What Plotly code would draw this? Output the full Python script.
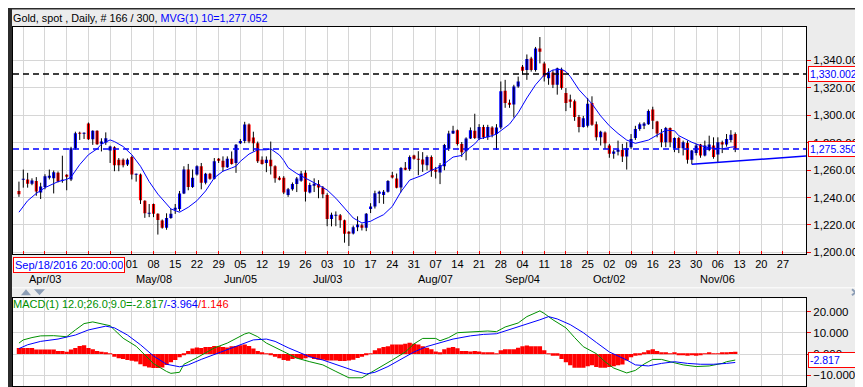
import plotly.graph_objects as go
import pandas as pd

# ---------------- data ----------------
dates = pd.bdate_range("2017-03-24", periods=182)   # trading-day slots (index = position)

open_ = [1244.8, 1253.0, 1253.2, 1250.1, 1252.0, 1243.7, 1247.7, 1254.8, 1254.0, 1258.0,
         1252.5, 1256.0, 1253.2, 1276.0, 1287.0, 1286.6, 1294.0, 1282.5, 1288.7, 1279.9,
         1280.1, 1274.3, 1276.7, 1267.6, 1267.6, 1264.0, 1269.5, 1256.8, 1256.8, 1237.7,
         1228.5, 1235.3, 1228.1, 1223.3, 1218.0, 1225.0, 1231.5, 1231.7, 1242.9, 1260.4,
         1247.7, 1256.8, 1262.8, 1250.8, 1257.3, 1253.7, 1268.1, 1266.9, 1262.1, 1268.3,
         1265.2, 1279.6, 1281.3, 1293.3, 1283.7, 1279.6, 1267.6, 1265.2, 1267.6, 1262.8,
         1254.4, 1254.4, 1241.9, 1246.0, 1249.8, 1252.2, 1258.0, 1243.6, 1249.1, 1249.8,
         1247.4, 1241.9, 1224.4, 1227.0, 1227.0, 1223.4, 1214.5, 1213.8, 1218.4, 1219.8,
         1217.9, 1231.6, 1233.5, 1243.1, 1241.9, 1244.3, 1256.3, 1253.9, 1247.4, 1261.6,
         1260.6, 1270.7, 1267.8, 1267.8, 1263.5, 1269.5, 1259.6, 1258.2, 1262.8, 1275.5,
         1286.7, 1289.1, 1279.1, 1273.8, 1283.1, 1288.7, 1283.1, 1291.5, 1283.9, 1291.1,
         1286.3, 1291.1, 1317.9, 1309.0, 1307.8, 1321.0, 1335.4, 1333.0, 1341.4, 1333.0,
         1348.6, 1337.8, 1327.0, 1331.1, 1322.2, 1333.0, 1316.2, 1311.4, 1310.2, 1298.7,
         1291.5, 1292.3, 1309.0, 1293.5, 1283.9, 1287.5, 1277.9, 1271.9, 1273.6, 1274.7,
         1270.0, 1276.7, 1283.4, 1289.9, 1293.0, 1293.5, 1304.2, 1295.4, 1286.7, 1280.3,
         1290.6, 1275.9, 1283.4, 1276.0, 1279.8, 1267.6, 1272.4, 1278.6, 1270.7, 1274.7,
         1277.9, 1271.4, 1280.3, 1278.6, 1282.0, 1286.3]
high = [1251.6, 1260.4, 1258.0, 1254.0, 1254.9, 1250.8, 1257.0, 1260.4, 1259.7, 1259.0,
        1270.5, 1257.0, 1277.0, 1288.0, 1288.0, 1287.5, 1294.7, 1289.0, 1289.0, 1283.2,
        1287.5, 1277.8, 1277.4, 1268.8, 1268.5, 1268.5, 1270.5, 1257.5, 1257.5, 1238.0,
        1235.3, 1235.6, 1228.5, 1224.0, 1228.5, 1231.7, 1235.3, 1244.8, 1262.8, 1264.5,
        1260.4, 1263.5, 1265.2, 1258.0, 1258.0, 1268.8, 1268.8, 1270.0, 1270.0, 1273.6,
        1279.0, 1282.7, 1295.2, 1294.0, 1288.0, 1280.8, 1270.0, 1270.0, 1280.8, 1263.5,
        1255.6, 1255.6, 1247.0, 1251.0, 1255.0, 1259.4, 1259.9, 1250.8, 1254.0, 1252.7,
        1248.4, 1243.1, 1229.0, 1229.9, 1228.0, 1223.9, 1215.5, 1219.6, 1226.3, 1221.0,
        1228.7, 1235.9, 1245.0, 1245.0, 1245.5, 1252.7, 1258.7, 1257.5, 1262.3, 1265.9,
        1270.7, 1271.2, 1273.8, 1273.1, 1270.7, 1270.7, 1262.3, 1265.2, 1279.1, 1288.7,
        1292.3, 1289.6, 1280.5, 1283.9, 1291.1, 1301.1, 1293.5, 1293.0, 1293.0, 1292.0,
        1293.5, 1324.6, 1325.8, 1311.4, 1322.2, 1328.2, 1336.6, 1344.3, 1342.6, 1349.8,
        1357.0, 1339.0, 1334.2, 1333.0, 1334.7, 1334.7, 1319.8, 1315.0, 1311.4, 1300.2,
        1299.5, 1312.6, 1313.8, 1295.4, 1288.7, 1288.2, 1279.1, 1274.7, 1281.5, 1279.1,
        1280.3, 1286.3, 1292.3, 1294.7, 1295.0, 1304.2, 1306.2, 1295.9, 1289.9, 1291.5,
        1291.1, 1283.9, 1284.3, 1281.5, 1281.5, 1274.7, 1279.1, 1279.1, 1281.5, 1285.1,
        1283.9, 1283.9, 1281.5, 1286.3, 1289.1, 1287.5]
low = [1240.5, 1247.2, 1247.2, 1249.0, 1241.3, 1238.9, 1246.0, 1253.2, 1243.0, 1251.0,
       1250.8, 1245.3, 1252.0, 1275.0, 1282.0, 1282.7, 1282.0, 1278.4, 1278.4, 1273.6,
       1278.4, 1265.2, 1259.2, 1259.2, 1262.0, 1263.0, 1253.2, 1251.6, 1235.3, 1225.2,
       1225.7, 1225.7, 1213.0, 1217.3, 1216.5, 1224.5, 1228.1, 1230.0, 1242.5, 1245.3,
       1247.0, 1256.0, 1246.0, 1249.6, 1253.0, 1253.2, 1265.2, 1259.2, 1261.6, 1264.0,
       1258.0, 1279.0, 1279.6, 1279.6, 1273.6, 1265.2, 1264.0, 1258.5, 1256.8, 1250.8,
       1252.5, 1242.5, 1240.5, 1245.0, 1244.0, 1251.5, 1237.1, 1243.0, 1244.0, 1239.5,
       1239.5, 1219.1, 1219.0, 1219.1, 1217.9, 1207.1, 1204.7, 1213.1, 1215.5, 1216.0,
       1215.5, 1228.7, 1232.0, 1235.9, 1235.4, 1243.6, 1253.9, 1246.7, 1243.8, 1259.9,
       1259.4, 1267.6, 1256.3, 1258.7, 1259.9, 1255.1, 1253.9, 1249.8, 1259.9, 1274.0,
       1286.3, 1277.9, 1269.5, 1267.1, 1282.7, 1282.7, 1282.0, 1282.7, 1282.0, 1283.9,
       1274.7, 1289.9, 1305.4, 1305.4, 1298.3, 1320.0, 1329.4, 1325.8, 1331.8, 1331.8,
       1337.8, 1324.6, 1322.2, 1319.8, 1315.0, 1318.6, 1303.0, 1305.4, 1295.9, 1287.5,
       1291.0, 1291.1, 1292.3, 1281.5, 1277.9, 1275.5, 1269.0, 1268.3, 1270.7, 1265.9,
       1260.4, 1275.5, 1282.0, 1288.7, 1289.9, 1293.0, 1289.9, 1283.9, 1276.7, 1276.7,
       1276.7, 1273.1, 1272.4, 1270.7, 1264.7, 1264.2, 1270.7, 1269.0, 1270.0, 1273.8,
       1268.3, 1265.2, 1272.4, 1277.1, 1280.3, 1273.1]
close = [1242.4, 1253.4, 1250.1, 1252.5, 1244.4, 1248.0, 1255.6, 1255.2, 1258.5, 1251.6,
         1252.8, 1255.6, 1276.0, 1286.8, 1286.6, 1286.9, 1282.5, 1288.7, 1278.9, 1280.8,
         1283.2, 1277.2, 1263.6, 1263.6, 1263.6, 1267.6, 1256.8, 1257.0, 1238.1, 1228.5,
         1228.9, 1228.1, 1223.7, 1218.0, 1225.0, 1228.1, 1231.9, 1242.9, 1260.4, 1247.7,
         1254.4, 1262.8, 1250.8, 1257.3, 1253.7, 1266.4, 1266.9, 1262.1, 1268.3, 1264.5,
         1278.4, 1281.3, 1293.3, 1280.8, 1279.6, 1266.4, 1264.5, 1267.6, 1262.8, 1254.0,
         1253.2, 1243.7, 1246.0, 1249.8, 1253.9, 1257.5, 1244.3, 1249.1, 1249.5, 1247.4,
         1242.4, 1224.4, 1227.5, 1227.3, 1223.4, 1213.6, 1214.0, 1218.4, 1220.3, 1218.4,
         1228.2, 1233.5, 1243.1, 1243.3, 1244.3, 1252.0, 1254.6, 1247.2, 1261.6, 1260.6,
         1269.5, 1268.3, 1267.6, 1264.0, 1269.5, 1259.4, 1259.2, 1263.5, 1278.3, 1286.7,
         1288.7, 1279.1, 1273.1, 1283.1, 1289.1, 1283.4, 1291.5, 1283.9, 1291.5, 1285.8,
         1291.1, 1317.4, 1309.0, 1307.8, 1321.0, 1324.6, 1332.5, 1340.9, 1333.0, 1348.6,
         1346.2, 1328.2, 1331.1, 1322.2, 1334.2, 1319.8, 1309.0, 1309.8, 1298.7, 1291.5,
         1297.8, 1308.3, 1293.0, 1283.9, 1287.9, 1279.5, 1271.9, 1273.6, 1274.7, 1270.0,
         1276.2, 1282.7, 1289.9, 1293.5, 1294.0, 1303.0, 1295.9, 1286.7, 1280.3, 1290.6,
         1280.3, 1283.4, 1276.2, 1280.3, 1267.6, 1274.3, 1277.9, 1270.7, 1277.9, 1278.6,
         1269.5, 1280.3, 1278.6, 1282.7, 1285.8, 1275.35]

ma_x = [0, 2, 4, 6, 9, 11, 12, 14, 16, 18, 19, 21, 22, 24, 26, 28, 30, 32, 34, 35,
        37, 39, 41, 43, 45, 47, 49, 50, 51, 53, 55, 57, 58, 60, 61, 62, 64, 67, 69, 71,
        73, 75, 77, 79, 81, 82, 84, 86, 88, 90, 93, 95, 97, 99, 100, 102, 103, 105, 106, 109,
        110, 113, 115, 117, 119, 121, 123, 125, 126, 127, 129, 132, 134, 136, 138, 140, 142, 145, 147, 149,
        151, 152, 155, 157, 159, 162, 164, 165]
ma_y = [1229.3, 1237.7, 1243.0, 1247.2, 1251.6, 1253.2, 1254.9, 1264.0, 1271.2, 1275.5,
        1278.9, 1282.0, 1280.8, 1277.2, 1271.2, 1262.8, 1251.6, 1242.5, 1235.3, 1231.7,
        1229.3, 1232.9, 1237.7, 1244.8, 1254.4, 1259.2, 1261.6, 1262.8, 1266.4, 1271.7,
        1274.8, 1274.8, 1275.5, 1271.0, 1267.0, 1261.8, 1257.5, 1252.7, 1249.1, 1245.5,
        1239.5, 1232.3, 1225.1, 1221.5, 1222.7, 1224.4, 1227.5, 1233.5, 1244.3, 1252.7,
        1256.3, 1259.9, 1262.3, 1267.1, 1269.5, 1270.7, 1274.3, 1279.1, 1282.7, 1285.1,
        1286.3, 1293.5, 1301.8, 1312.6, 1322.2, 1329.4, 1333.0, 1333.5, 1331.8, 1328.2,
        1318.6, 1308.3, 1299.5, 1292.3, 1286.7, 1281.9, 1279.5, 1281.9, 1285.8, 1289.1,
        1288.7, 1285.1, 1280.3, 1277.9, 1276.2, 1275.5, 1276.7, 1277.052]

macd_x = [0, 1, 3, 5, 8, 11, 13, 15, 17, 19, 21, 22, 24, 27, 29, 31, 34, 35, 37, 38,
          41, 43, 45, 48, 50, 52, 53, 55, 57, 60, 62, 64, 67, 70, 73, 76, 79, 81, 83, 86,
          89, 91, 93, 96, 97, 99, 101, 105, 108, 110, 112, 115, 117, 120, 121, 123, 126, 128, 130, 133,
          135, 137, 140, 142, 144, 146, 148, 150, 153, 156, 159, 162, 163, 165]
macd_y = [5.2, 6.7, 7.8, 8.6, 8.7, 8.2, 11.4, 14.4, 15.2, 14.4, 13.4, 11.4, 7.5, 3.7, -0.2, -4.5, -8.2, -9.1, -8.6, -4.8,
          -1.7, 0.6, 2.9, 5.2, 7.5, 9.5, 10.1, 8.2, 5.2, 2.1, -0.2, -1.9, -3.6, -5.1, -8.2, -11.2, -11.2, -8.9, -6.6, -2.8,
          1.0, 4.8, 7.4, 7.4, 6.3, 7.8, 10.1, 10.6, 10.9, 10.6, 12.8, 14.7, 17.7, 20.4, 19.2, 16.2, 12.4, 7.8, 3.5, 0.2,
          -3.6, -6.6, -8.9, -7.7, -4.7, -2.5, -2.5, -3.6, -5.1, -5.9, -5.6, -4.4, -3.6, -2.817]
sig_x = [0, 2, 5, 9, 13, 16, 20, 22, 25, 28, 31, 34, 37, 39, 42, 45, 48, 51, 54, 57,
         59, 62, 65, 67, 70, 74, 77, 80, 82, 85, 88, 91, 94, 97, 100, 104, 107, 110, 113, 117,
         120, 122, 124, 127, 130, 133, 136, 140, 142, 145, 148, 151, 154, 157, 160, 163, 165]
sig_y = [2.6, 4.4, 6.0, 7.1, 9.0, 11.4, 13.2, 12.4, 9.0, 4.4, -0.9, -4.8, -6.0, -5.1, -2.5, -0.2, 2.1, 4.7, 6.7, 7.1,
         6.0, 3.0, 0.3, -1.3, -2.8, -5.6, -7.7, -9.4, -8.6, -5.9, -2.5, 1.0, 3.6, 5.5, 7.1, 8.6, 9.3, 9.6, 11.6, 13.9,
         16.2, 17.7, 16.6, 13.9, 10.1, 5.5, 1.0, -2.8, -5.1, -5.6, -4.4, -3.6, -4.4, -4.8, -4.8, -4.4, -3.964]
hist = [2.9, 2.9, 2.9, 2.9, 2.2, 2.2, 2.2, 2.2, 2.2, 1.4,
        1.4, 1.1, 2.2, 2.9, 3.8, 4.2, 2.9, 2.3, 1.4, 1.1,
        0.8, 0.3, -1.2, -2.0, -2.3, -2.8, -3.2, -3.5, -4.8, -5.8,
        -6.3, -6.6, -6.6, -6.3, -5.1, -3.8, -2.8, -1.5, -0.5, 1.4,
        2.6, 3.1, 2.9, 3.4, 3.4, 3.8, 3.7, 3.4, 3.1, 3.7,
        3.8, 4.2, 4.5, 3.8, 2.6, 1.4, 0.6, 0.3, -0.5, -1.2,
        -2.0, -2.8, -3.2, -2.3, -2.0, -2.3, -2.0, -1.5, -2.3, -2.7,
        -2.7, -3.0, -3.0, -3.0, -3.3, -3.3, -3.0, -2.7, -1.8, -1.2,
        -0.3, 0.3, 1.8, 2.7, 3.3, 3.7, 4.5, 4.5, 4.5, 4.9,
        5.3, 4.9, 4.5, 3.7, 3.0, 2.3, 1.2, 0.8, 2.3, 3.0,
        3.3, 2.7, 1.5, 1.5, 1.2, 1.5, 1.2, 0.8, 0.8, 0.5,
        0.3, 1.8, 2.3, 2.3, 2.3, 3.0, 3.7, 4.1, 3.7, 3.7,
        3.7, 1.8, 0.3, -0.8, -0.8, -2.3, -3.8, -5.3, -6.4, -6.4,
        -6.4, -5.8, -5.3, -6.1, -6.4, -6.4, -6.1, -5.8, -5.3, -4.9,
        -3.0, -1.5, -0.8, -0.3, 0.8, 1.8, 2.3, 1.5, 0.8, 0.8,
        0.3, 0.8, -0.3, -0.3, -0.8, -0.3, -0.8, -0.3, 0.2, 0.8,
        0.3, 0.3, 0.8, 0.6, 1.0, 1.146]

level_black = 1330.002
level_last = 1275.350
trend_x = [155, 181.3]
trend_y = [1264.2, 1270.3]

month_dates = ["2017-04-03", "2017-05-08", "2017-06-05", "2017-07-03",
               "2017-08-07", "2017-09-04", "2017-10-02", "2017-11-06"]
month_text = ["Apr/03", "May/08", "Jun/05", "Jul/03", "Aug/07", "Sep/04", "Oct/02", "Nov/06"]
price_ticks = [1200, 1220, 1240, 1260, 1280, 1300, 1320, 1340]
macd_ticks = [-10, 0, 10, 20]

# ---------------- figure ----------------
W, H = 863, 387
FONT = "Liberation Sans, Arial, sans-serif"
BLUE, RED, GREEN = "#0000ff", "#ff0000", "#009000"


def px(x):
    return x / W


def py(y):
    return 1 - y / H


n = len(close)
xi = list(range(n))
wx, wy = [], []
for i in xi:
    wx += [i, i, None]
    wy += [low[i], high[i], None]
body_base = [min(o, c) for o, c in zip(open_, close)]
body_h = [max(abs(c - o), 0.4) for o, c in zip(open_, close)]
body_col = [BLUE if c >= o else RED for o, c in zip(open_, close)]

fig = go.Figure()
fig.add_trace(go.Scatter(x=wx, y=wy, mode="lines", line=dict(color="black", width=1),
                         xaxis="x", yaxis="y", hoverinfo="skip"))
fig.add_trace(go.Bar(x=xi, y=body_h, base=body_base, width=0.72,
                     marker=dict(color=body_col, line=dict(width=0)), xaxis="x", yaxis="y"))
fig.add_trace(go.Scatter(x=ma_x, y=ma_y, mode="lines", line=dict(color=BLUE, width=1),
                         xaxis="x", yaxis="y"))
fig.add_trace(go.Scatter(x=trend_x, y=trend_y, mode="lines", line=dict(color=BLUE, width=1.5),
                         xaxis="x", yaxis="y"))
fig.add_trace(go.Bar(x=xi, y=hist, width=1.0, marker=dict(color=RED, line=dict(width=0)),
                     xaxis="x2", yaxis="y2"))
fig.add_trace(go.Scatter(x=macd_x, y=macd_y, mode="lines", line=dict(color=GREEN, width=1),
                         xaxis="x2", yaxis="y2"))
fig.add_trace(go.Scatter(x=sig_x, y=sig_y, mode="lines", line=dict(color=BLUE, width=1),
                         xaxis="x2", yaxis="y2"))

XR = [-1.37, 181.3]
XD = [px(5), px(798)]
tick_idx = [k for k, d in enumerate(dates) if d.weekday() == 0 and k < 180]
# labels lying under the time-stamp box at the left are hidden in the reference
tick_txt = [dates[k].strftime("%d") if 5 + (k - XR[0]) / (XR[1] - XR[0]) * 793 > 117 else ""
            for k in tick_idx]
grid = "#d6d6d6"

common_x = dict(range=XR, domain=XD, tickvals=tick_idx, showgrid=True, gridcolor=grid,
                gridwidth=1, zeroline=False, showline=True, linecolor="black", linewidth=1,
                mirror=True, fixedrange=True)
fig.update_layout(
    width=W, height=H, margin=dict(l=0, r=0, t=0, b=0),
    paper_bgcolor="#ececec", plot_bgcolor="white", showlegend=False, barmode="overlay",
    font=dict(family=FONT, size=12, color="black"),
    xaxis=dict(**common_x, anchor="y", ticktext=tick_txt, ticks="inside", ticklen=3,
               tickcolor=RED, tickfont=dict(size=11, color="black")),
    xaxis2=dict(**common_x, anchor="y2", showticklabels=False, ticks=""),
    yaxis=dict(domain=[py(249), py(19)], range=[1199.0, 1364.5], side="right",
               tickvals=price_ticks, tickformat=",.3f", ticks="outside", ticklen=4,
               tickcolor=RED, showgrid=True, gridcolor=grid, zeroline=False,
               showline=True, linecolor="black", linewidth=1, mirror=True,
               tickfont=dict(size=11.5), anchor="x", fixedrange=True),
    yaxis2=dict(domain=[py(383), py(294)], range=[-15.1, 26.4], side="right",
                tickvals=macd_ticks, tickformat=".3f", ticks="outside", ticklen=4,
                tickcolor=RED, showgrid=True, gridcolor=grid, zeroline=False,
                showline=True, linecolor="black", linewidth=1, mirror=True,
                tickfont=dict(size=11.5), anchor="x2", fixedrange=True),
)

shapes = [
    dict(type="line", xref="x", yref="y", x0=XR[0], x1=XR[1], y0=level_black, y1=level_black,
         line=dict(color="black", width=1.5, dash="6px,4px")),
    dict(type="line", xref="x", yref="y", x0=XR[0], x1=XR[1], y0=level_last, y1=level_last,
         line=dict(color=BLUE, width=1.5, dash="6px,4px")),
    # window frame
    dict(type="rect", xref="paper", yref="paper", x0=0, x1=px(4), y0=0, y1=1,
         fillcolor="#2b2b2b", line=dict(width=0), layer="above"),
    dict(type="rect", xref="paper", yref="paper", x0=px(861), x1=1, y0=0, y1=1,
         fillcolor="#2b2b2b", line=dict(width=0), layer="above"),
    dict(type="rect", xref="paper", yref="paper", x0=0, x1=1, y0=py(1.5), y1=1,
         fillcolor="#2b2b2b", line=dict(width=0), layer="above"),
    dict(type="rect", xref="paper", yref="paper", x0=0, x1=1, y0=0, y1=py(385),
         fillcolor="#2b2b2b", line=dict(width=0), layer="above"),
    dict(type="line", xref="paper", yref="paper", x0=px(4), x1=px(860), y0=py(283.5), y1=py(283.5),
         line=dict(color="white", width=1)),
    # panel arrows and close mark
    dict(type="path", xref="paper", yref="paper",
         path=f"M {px(13)},{py(291)} L {px(18)},{py(285)} L {px(23)},{py(291)} Z",
         fillcolor="#8c9db5", line=dict(width=0)),
    dict(type="path", xref="paper", yref="paper",
         path=f"M {px(26)},{py(285)} L {px(37)},{py(285)} L {px(31.5)},{py(291)} Z",
         fillcolor="#8c9db5", line=dict(width=0)),
    dict(type="line", xref="paper", yref="paper", x0=px(844), x1=px(851), y0=py(285), y1=py(291),
         line=dict(color="#8c9db5", width=2)),
    dict(type="line", xref="paper", yref="paper", x0=px(844), x1=px(851), y0=py(291), y1=py(285),
         line=dict(color="#8c9db5", width=2)),
]
fig.update_layout(shapes=shapes)

ann = [
    dict(xref="paper", yref="paper", x=px(3), y=py(10), xanchor="left", yanchor="middle",
         showarrow=False, font=dict(size=10.8, color="black"),
         text="Gold, spot , Daily, # 166 / 300, <span style='color:#0000ff'>MVG(1) 10=1,277.052</span>"),
    dict(xref="paper", yref="paper", x=px(3), y=py(300), xanchor="left", yanchor="middle",
         showarrow=False, font=dict(size=11, color=GREEN),
         text="MACD(1) 12.0;26.0;9.0=-2.817<span style='color:#0000ff'>/-3.964</span>"
              "<span style='color:#ff0000'>/1.146</span>"),
    dict(xref="paper", yref="paper", x=px(5), y=py(260), xanchor="left", yanchor="middle",
         showarrow=False, font=dict(size=11, color=BLUE), text="Sep/18/2016 20:00:00",
         bgcolor="white", bordercolor=RED, borderwidth=1, borderpad=1, width=108, align="left"),
]
for val, yref, txt in [(level_black, "y", "1,330.002"), (level_last, "y", "1,275.350"),
                       (macd_y[-1], "y2", "-2.817")]:
    ann.append(dict(xref="paper", yref=yref, x=px(800), y=val, xanchor="left", yanchor="middle",
                    showarrow=False, font=dict(size=10.5, color=BLUE), text=txt, bgcolor="white",
                    bordercolor=RED, borderwidth=1, borderpad=1, width=49, align="left"))
for d, t in zip(month_dates, month_text):
    ann.append(dict(xref="x", yref="paper", x=dates.get_loc(pd.Timestamp(d)), y=py(275),
                    xanchor="center", yanchor="middle", showarrow=False,
                    font=dict(size=11, color="black"), text=t))
fig.update_layout(annotations=ann)

fig.write_html("out.html")
